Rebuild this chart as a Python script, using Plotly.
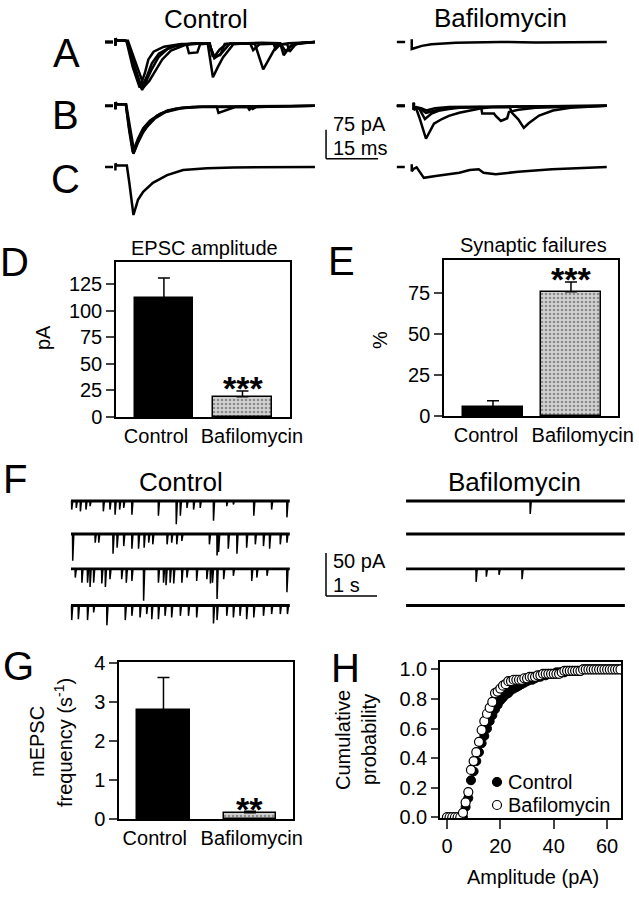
import plotly.graph_objects as go

W, H = 639, 899
FONT = "Liberation Sans, Arial, Helvetica, sans-serif"

# ------------------------------------------------------------------ data
groups = ["Control", "Bafilomycin"]
epsc_amp = [112, 19]
epsc_err = [18.6, 5.5]
failures_pct = [5.7, 76]
failures_err = [3.7, 6.0]
mepsc_freq = [2.78, 0.16]
mepsc_err = [0.84, 0.04]

# cumulative amplitude distributions (panel H)
amp_bins = [0, 1, 2, 3, 4, 5, 6, 7, 8, 9, 10, 11, 12, 13, 14, 15, 16, 17, 18, 19, 20,
            21, 22, 23, 24, 25, 26, 27, 28, 29, 30, 31, 32, 33, 34, 35, 36, 37, 38, 39, 40,
            41, 42, 43, 44, 45, 46, 47, 48, 49, 50, 51, 52, 53, 54, 55, 56, 57, 58, 59, 60,
            61, 62, 63, 64, 65]
cum_control = [0, 0, 0, 0, 0, 0, 0, 0.07, 0.13, 0.25, 0.31, 0.38, 0.44, 0.50, 0.55, 0.60,
               0.65, 0.69, 0.73, 0.76, 0.79, 0.81, 0.83, 0.84, 0.86, 0.87, 0.88, 0.89, 0.90,
               0.91, 0.92, 0.93, 0.93, 0.94, 0.95, 0.95, 0.96, 0.96, 0.97, 0.97, 0.97, 0.98,
               0.98, 0.98, 0.98, 0.99, 0.99, 0.99, 0.99, 0.99, 0.99, 1, 1, 1, 1, 1, 1, 1, 1,
               1, 1, 1, 1, 1, 1, 1]
cum_control_err = [0, 0, 0, 0, 0, 0, 0, 0.02, 0.03, 0.03, 0.03, 0.03, 0.03, 0.03, 0.04,
                   0.04, 0.04, 0.04, 0.04, 0.04, 0.04, 0.04, 0.03, 0.03, 0.03, 0.03, 0.03,
                   0.03, 0.03, 0.02, 0.02, 0.02, 0.02, 0.02, 0.02, 0.02, 0.02, 0.01, 0.01,
                   0.01, 0.01, 0.01, 0.01, 0.01, 0.01, 0.01, 0.01, 0.01, 0.01, 0.01, 0.01,
                   0, 0, 0, 0, 0, 0, 0, 0, 0, 0, 0, 0, 0, 0, 0]
cum_bafilo = [0, 0, 0, 0, 0, 0, 0.03, 0.10, 0.17, 0.32, 0.38, 0.44, 0.51, 0.59, 0.65, 0.70,
              0.74, 0.78, 0.84, 0.85, 0.87, 0.89, 0.90, 0.92, 0.92, 0.93, 0.93, 0.93, 0.93,
              0.94, 0.94, 0.95, 0.95, 0.95, 0.96, 0.96, 0.97, 0.97, 0.97, 0.97, 0.97, 0.97,
              0.97, 0.98, 0.99, 0.99, 0.99, 0.99, 0.99, 0.99, 0.99, 1, 1, 1, 1, 1, 1, 1, 1,
              1, 1, 1, 1, 1, 1, 1]

# evoked EPSC traces (time ms, current pA), panels A-C
ctrl_art_t = [0, 2.3, None, 3.0, 3.0, 3.4, 5.6]
ctrl_art_i = [0, 0, None, -9, 9, 4, 4]

cA1_t = [6.4, 8.0, 10.7, 12.0, 13.5, 15.5, 18, 21, 26, 29.6, 31.1, 32.5, 34, 37, 41, 45, 50.5, 52, 54, 57, 60.5]
cA1_i = [2, -50, -124, -100, -70, -38, -18, -8, -3, -4, -91, -65, -40, -6, -3, -2, -3, -24, -8, -2, 0]
cA2_t = [6.2, 8.0, 10.0, 11.5, 12.5, 14, 17, 22, 23.5, 24.2, 26.6, 27.4, 30, 31.5, 33, 35, 40, 43.2, 45.6, 47.5, 49.5, 53, 60.5]
cA2_i = [2, -65, -118, -80, -45, -25, -12, -5, -5, -29, -27, -6, -4, -38, -20, -5, -3, -5, -71, -40, -8, -3, 0]
cA3_t = [6.6, 8.5, 11.3, 12.8, 14.5, 16.5, 19, 23, 28, 30.0, 31.5, 33.5, 36, 41.8, 42.7, 44.5, 50.5, 51.5, 53.5, 56, 60.5]
cA3_i = [3, -45, -115, -100, -75, -45, -22, -8, -3, -3, -42, -30, -4, -3, -21, -6, -4, -34, -10, -3, 0]
cA4_t = [6.3, 8.2, 10.5, 12, 13.5, 15.5, 19, 25, 30.2, 31, 33.2, 34.5, 40, 48.5, 49.2, 50.5, 52.5, 53.2, 55, 60.5]
cA4_i = [2, -55, -120, -90, -55, -30, -12, -4, -3, -36, -34, -5, -3, -3, -18, -6, -5, -25, -5, 0]

cB1_t = [6.0, 7.0, 8.2, 9.5, 11, 13, 15, 18, 22, 27, 32.2, 32.7, 34.5, 37.5, 42, 42.6, 43.6, 50, 60.5]
cB1_i = [4, -60, -124, -95, -68, -42, -25, -12, -5, -2, -2, -18, -12, -3, -2, -8, -3, -2, 0]
cB2_t = [6.0, 7.0, 8.0, 9.5, 11, 13, 16, 20, 25, 41, 41.6, 42.6, 60.5]
cB2_i = [4, -65, -120, -85, -58, -38, -20, -8, -3, -2, -10, -3, 0]
cB3_t = [6.1, 7.2, 8.4, 10, 12, 14.5, 17.5, 22, 28, 60.5]
cB3_i = [4, -55, -118, -80, -55, -32, -16, -6, -2, 0]

cC_t = [6.3, 7.0, 8.2, 9.5, 11, 13.8, 17.9, 22.5, 29.4, 37, 60.5]
cC_i = [4, -40, -124, -85, -64, -41, -21, -8, -3, -1, 0]

bA_t = [0, 2.4, None, 4.3, 4.3, 5.0, 7.2, 10, 13, 17, 21, 30, 40, 50, 60.5]
bA_i = [0, 0, None, 7, -18, -16, -10, -6, -4, -2, -1, 0, -1, 0, 0]

baf_artB_t = [0, 2.3, None, 4.9, 4.9]
baf_artB_i = [0, 0, None, 8, -10]
bB1_t = [5.5, 6.5, 8.4, 10.7, 13, 15, 18, 20.7, 24, 27.4, 35, 45, 60.5]
bB1_i = [-5, -30, -85, -46, -34, -26, -18, -13, -7, -3, -2, -1, 0]
bB2_t = [5.5, 6.5, 8.1, 10, 12, 15, 18, 22, 24.3, 24.6, 28.0, 28.5, 30.0, 31.8, 32.3, 35, 40, 50, 60.5]
bB2_i = [-4, -8, -34, -20, -13, -8, -5, -3, -3, -20, -20, -26, -39, -32, -16, -10, -5, -2, 0]
bB3_t = [5.5, 6.5, 8.4, 10, 13, 17, 25, 32.5, 33.2, 35, 36.6, 38, 41, 45, 50, 55, 60.5]
bB3_i = [-4, -6, -18, -14, -8, -4, -3, -3, -18, -35, -57, -45, -25, -12, -5, -2, 0]
bB4_t = [5.5, 7, 8.5, 11, 15, 22, 60.5]
bB4_i = [-4, -6, -12, -6, -3, -2, 0]

bC_t = [0, 2.3, None, 4.3, 4.3, 4.8, 5.7, 7.8, 11.2, 18, 21, 23.6, 25, 28.5, 35, 44.7, 52, 60.5]
bC_i = [0, 0, None, 7, -11, -5, -1, -28, -23, -15, -8, -6, -15, -19, -12, -6, -3, 0]

# spontaneous mEPSC events (time s, amplitude pA), panel F
F_DURATION = 4.29
ctrl_F_t = [
    [0.01, 0.10, 0.18, 0.29, 0.37, 0.63, 0.76, 0.86, 0.95, 1.03, 1.19, 1.71, 2.06, 2.14, 2.27,
     2.40, 2.53, 2.79, 3.05, 3.18, 3.58, 3.93, 4.23],
    [0.03, 0.47, 0.54, 0.82, 0.90, 1.03, 1.19, 1.32, 1.43, 1.52, 1.60, 1.88, 1.97, 2.07, 2.17,
     2.71, 2.86, 2.89, 3.08, 3.25, 3.44, 3.61, 3.77, 3.89, 4.10, 4.23],
    [0.08, 0.21, 0.32, 0.37, 0.44, 0.60, 0.67, 0.76, 0.99, 1.08, 1.19, 1.42, 1.71, 1.81, 1.86,
     1.94, 2.01, 2.17, 2.27, 2.46, 2.66, 2.73, 2.77, 2.86, 2.99, 3.18, 3.54, 3.64, 3.84, 4.23],
    [0.01, 0.14, 0.32, 0.44, 0.70, 1.06, 1.19, 1.35, 1.48, 1.58, 1.71, 1.84, 1.97, 2.14, 2.30,
     2.46, 2.79, 2.86, 3.05, 3.18, 3.31, 3.44, 3.58, 3.77, 3.93, 4.10, 4.24],
]
ctrl_F_a = [
    [10, 8, 12, 10, 6, 12, 10, 16, 10, 8, 16, 17, 27, 17, 8, 10, 8, 23, 6, 4, 17, 10, 19],
    [31, 10, 10, 23, 16, 14, 17, 17, 16, 10, 12, 12, 10, 12, 8, 12, 25, 21, 17, 23, 16, 12, 14,
     17, 12, 10],
    [10, 16, 16, 21, 16, 17, 21, 12, 12, 16, 14, 37, 16, 16, 19, 16, 17, 16, 10, 14, 12, 17, 16,
     35, 12, 8, 14, 10, 8, 27],
    [17, 16, 17, 8, 23, 17, 12, 14, 10, 16, 16, 12, 14, 12, 12, 14, 21, 17, 12, 14, 12, 16, 14,
     12, 10, 10, 10],
]
baf_F_t = [[2.43], [], [1.37, 1.57, 1.82, 2.27], []]
baf_F_a = [[15], [], [15, 9, 7, 12], []]

# ------------------------------------------------------------------ layout constants
def px_x(p):
    return p / W


def px_y(p):
    return 1 - p / H


# panels A-C: one trace axis, ms / pA
T0_PX, MS_PX = 105, 3.47
BASE_PX, PA_PX = 42, 0.387
TR_DOM_X = (95, 630)
TR_DOM_Y = (25, 228)
BAF_SHIFT_MS = 84.1
ROW_OFF = {"A": 0, "B": -165, "C": -323}

# panel F trace axis, s / pA
F_T0_PX, S_PX = 71, 51
F_BASE_PX, F_PA_PX = 501, 0.86
F_DOM_X = (60, 635)
F_DOM_Y = (488, 628)
F_BAF_SHIFT = 6.57
F_ROW_OFF = [0, -38.4, -79, -121.5]

fig = go.Figure()
LINE = dict(color="black", width=2.5)


def add_ev(t, i, shift, off):
    xs = [None if v is None else v + shift for v in t]
    ys = [None if v is None else v + off for v in i]
    fig.add_trace(go.Scatter(x=xs, y=ys, mode="lines", line=LINE, showlegend=False,
                             hoverinfo="skip", xaxis="x", yaxis="y", connectgaps=False))


for tt, ii in [(cA1_t, cA1_i), (cA2_t, cA2_i), (cA3_t, cA3_i), (cA4_t, cA4_i)]:
    add_ev(ctrl_art_t + tt, ctrl_art_i + ii, 0, ROW_OFF["A"])
for tt, ii in [(cB1_t, cB1_i), (cB2_t, cB2_i), (cB3_t, cB3_i)]:
    add_ev(ctrl_art_t + tt, ctrl_art_i + ii, 0, ROW_OFF["B"])
add_ev(ctrl_art_t + cC_t, ctrl_art_i + cC_i, 0, ROW_OFF["C"])
add_ev(bA_t, bA_i, BAF_SHIFT_MS, ROW_OFF["A"])
for tt, ii in [(bB1_t, bB1_i), (bB2_t, bB2_i), (bB3_t, bB3_i), (bB4_t, bB4_i)]:
    add_ev(baf_artB_t + tt, baf_artB_i + ii, BAF_SHIFT_MS, ROW_OFF["B"])
add_ev(bC_t, bC_i, BAF_SHIFT_MS, ROW_OFF["C"])

# panel F traces
for shift, ev_t, ev_a in [(0, ctrl_F_t, ctrl_F_a), (F_BAF_SHIFT, baf_F_t, baf_F_a)]:
    for r in range(4):
        off = F_ROW_OFF[r]
        fig.add_trace(go.Scatter(x=[shift, shift + F_DURATION], y=[off, off], mode="lines",
                                 line=dict(color="black", width=2.8), showlegend=False,
                                 hoverinfo="skip", xaxis="x2", yaxis="y2"))
        xs, ys = [], []
        for t, a in zip(ev_t[r], ev_a[r]):
            xs += [shift + t, shift + t + 0.004, shift + t + 0.025, None]
            ys += [off, off - a, off, None]
        if xs:
            fig.add_trace(go.Scatter(x=xs, y=ys, mode="lines",
                                     line=dict(color="black", width=1.5), showlegend=False,
                                     hoverinfo="skip", xaxis="x2", yaxis="y2"))

# bar panels
BAR_COLORS = ["black", "#d2d2d2"]
PATTERN = dict(shape=["", "."], fgcolor="#9a9a9a", size=4, solidity=0.35, fillmode="overlay")


def add_bars(vals, errs, ax, width):
    fig.add_trace(go.Bar(
        x=[0, 1], y=vals, width=width, xaxis="x" + ax, yaxis="y" + ax,
        marker=dict(color=BAR_COLORS, line=dict(color="black", width=1.5), pattern=PATTERN),
        error_y=dict(type="data", array=errs, arrayminus=[0, 0], symmetric=False,
                     color="black", thickness=1.5, width=6),
        showlegend=False, hoverinfo="skip"))


add_bars(epsc_amp, epsc_err, "3", 0.74)
add_bars(failures_pct, failures_err, "4", 0.77)
add_bars(mepsc_freq, mepsc_err, "5", 0.61)

# panel H
CTRL_MARK = dict(symbol="circle", size=9, color="black", line=dict(color="black", width=1))
BAF_MARK = dict(symbol="circle", size=9, color="white", line=dict(color="black", width=1.2))
fig.add_trace(go.Scatter(
    x=amp_bins, y=cum_control, mode="markers", name="Control", xaxis="x6", yaxis="y6",
    marker=CTRL_MARK,
    error_y=dict(type="data", array=cum_control_err, color="black", thickness=1, width=0),
    hoverinfo="skip", showlegend=False))
fig.add_trace(go.Scatter(
    x=amp_bins, y=cum_bafilo, mode="markers", name="Bafilomycin", xaxis="x6", yaxis="y6",
    marker=BAF_MARK, hoverinfo="skip", showlegend=False))

# ------------------------------------------------------------------ axes
def dom_x(a, b):
    return [px_x(a), px_x(b)]


def dom_y(top, bottom):
    return [px_y(bottom), px_y(top)]


tick_font = dict(family=FONT, size=20, color="black")
frame = dict(showline=True, linecolor="black", linewidth=1.5, mirror=True, showgrid=False,
             zeroline=False, fixedrange=True)

layout = dict(
    width=W, height=H, margin=dict(l=0, r=0, t=0, b=0, pad=0, autoexpand=False),
    paper_bgcolor="white", plot_bgcolor="white",
    font=dict(family=FONT, color="black"),
    bargap=0, showlegend=False,
    xaxis=dict(domain=dom_x(*TR_DOM_X), visible=False, fixedrange=True,
               range=[(TR_DOM_X[0] - T0_PX) / MS_PX, (TR_DOM_X[1] - T0_PX) / MS_PX],
               anchor="y"),
    yaxis=dict(domain=dom_y(*TR_DOM_Y), visible=False, fixedrange=True,
               range=[(BASE_PX - TR_DOM_Y[1]) / PA_PX, (BASE_PX - TR_DOM_Y[0]) / PA_PX],
               anchor="x"),
    xaxis2=dict(domain=dom_x(*F_DOM_X), visible=False, fixedrange=True,
                range=[(F_DOM_X[0] - F_T0_PX) / S_PX, (F_DOM_X[1] - F_T0_PX) / S_PX],
                anchor="y2"),
    yaxis2=dict(domain=dom_y(*F_DOM_Y), visible=False, fixedrange=True,
                range=[(F_BASE_PX - F_DOM_Y[1]) / F_PA_PX, (F_BASE_PX - F_DOM_Y[0]) / F_PA_PX],
                anchor="x2"),
    # D
    xaxis3=dict(domain=dom_x(116, 290), range=[-0.61, 1.605], anchor="y3", ticks="",
                tickvals=[-0.10, 1.12], ticktext=groups, tickfont=tick_font, **frame),
    yaxis3=dict(domain=dom_y(262, 417), range=[0, 145.7], anchor="x3", ticks="outside",
                ticklen=8, tickwidth=1.5, tickvals=[0, 25, 50, 75, 100, 125],
                tickfont=tick_font, **frame),
    # E
    xaxis4=dict(domain=dom_x(444, 618), range=[-0.628, 1.603], anchor="y4", ticks="",
                tickvals=[-0.09, 1.15], ticktext=groups, tickfont=tick_font, **frame),
    yaxis4=dict(domain=dom_y(260, 416), range=[0, 95.4], anchor="x4", ticks="outside",
                ticklen=8, tickwidth=1.5, tickvals=[0, 25, 50, 75], tickfont=tick_font,
                **frame),
    # G
    xaxis5=dict(domain=dom_x(119, 293), range=[-0.514, 1.497], anchor="y5", ticks="",
                tickvals=[-0.10, 1.02], ticktext=groups, tickfont=tick_font, **frame),
    yaxis5=dict(domain=dom_y(662, 819), range=[0, 4.02], anchor="x5", ticks="outside",
                ticklen=8, tickwidth=1.5, tickvals=[0, 1, 2, 3, 4], tickfont=tick_font,
                **frame),
    # H
    xaxis6=dict(domain=dom_x(440, 621), range=[-2.6, 65.2], anchor="y6", ticks="outside",
                ticklen=9, tickwidth=1.5, tickvals=[0, 20, 40, 60], tickfont=tick_font,
                **frame),
    yaxis6=dict(domain=dom_y(662, 818), range=[-0.005, 1.05], anchor="x6", ticks="outside",
                ticklen=7, tickwidth=1.5, tickvals=[0, 0.2, 0.4, 0.6, 0.8, 1.0],
                tickformat=".1f", tickfont=tick_font, **frame),
)
fig.update_layout(**layout)

# scale bars
SB = dict(color="black", width=1.5)
sb_t, sb_top = 63.7, -227
fig.add_shape(type="line", xref="x", yref="y", x0=sb_t, x1=sb_t, y0=sb_top, y1=sb_top - 75, line=SB)
fig.add_shape(type="line", xref="x", yref="y", x0=sb_t, x1=sb_t + 15, y0=sb_top - 75, y1=sb_top - 75, line=SB)
fsb_t, fsb_top = 5.0, -60.5
fig.add_shape(type="line", xref="x2", yref="y2", x0=fsb_t, x1=fsb_t, y0=fsb_top, y1=fsb_top - 50, line=SB)
fig.add_shape(type="line", xref="x2", yref="y2", x0=fsb_t, x1=fsb_t + 1, y0=fsb_top - 50, y1=fsb_top - 50, line=SB)

# legend of panel H (key markers + labels)
LEG_X, LEG_Y, LEG_DY, LEG_R = 497, 782, 23, 4.5
for k, mk in enumerate([CTRL_MARK, BAF_MARK]):
    cy = LEG_Y + k * LEG_DY
    fig.add_shape(type="circle", xref="paper", yref="paper",
                  x0=px_x(LEG_X - LEG_R), x1=px_x(LEG_X + LEG_R),
                  y0=px_y(cy + LEG_R), y1=px_y(cy - LEG_R),
                  fillcolor=mk["color"], line=dict(color="black", width=1.2))


# ------------------------------------------------------------------ text
def ann(text, x, y, size, xanchor="center", angle=0):
    fig.add_annotation(text=text, x=px_x(x), y=px_y(y), xref="paper", yref="paper",
                       showarrow=False, xanchor=xanchor, yanchor="middle", textangle=angle,
                       font=dict(family=FONT, size=size, color="black"))


ann("Control", 206, 19, 26)
ann("Bafilomycin", 500, 18, 26)
ann("A", 66, 53, 40)
ann("B", 65, 115, 40)
ann("C", 65, 179, 40)
ann("75 pA", 331, 124, 20, xanchor="left")
ann("15 ms", 331, 148, 20, xanchor="left")

ann("D", 14, 262, 40)
ann("EPSC amplitude", 204, 248, 20)
ann("pA", 43, 338, 20, angle=-90)
ann("<b>***</b>", 243, 388, 34)

ann("E", 342, 261, 40)
ann("Synaptic failures", 533, 245, 20)
ann("%", 380, 340, 20, angle=-90)
ann("<b>***</b>", 571, 279, 34)

ann("F", 15, 479, 40)
ann("Control", 181, 482, 26)
ann("Bafilomycin", 514, 482, 26)
ann("50 pA", 331, 561, 20, xanchor="left")
ann("1 s", 331, 585, 20, xanchor="left")

ann("G", 18, 666, 40)
ann("mEPSC", 37, 742, 20, angle=-90)
ann("frequency (s<sup>-1</sup>)", 63, 742, 20, angle=-90)
ann("<b>**</b>", 249, 809, 34)

ann("H", 345, 668, 40)
ann("Cumulative", 343, 740, 20, angle=-90)
ann("probability", 369, 740, 20, angle=-90)
ann("Amplitude (pA)", 533, 877, 20)
ann(groups[0], LEG_X + 9, LEG_Y, 20, xanchor="left")
ann(groups[1], LEG_X + 9, LEG_Y + LEG_DY, 20, xanchor="left")

# the page's default body margin would shift the figure; remove it
fig.write_html("out.html", config={"displayModeBar": False},
               post_script="document.body.style.margin='0';")
